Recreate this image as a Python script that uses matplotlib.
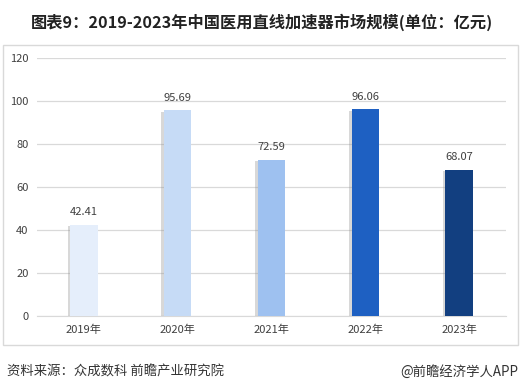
import matplotlib
matplotlib.use("Agg")
import matplotlib.pyplot as plt
import matplotlib.patheffects as pe
from matplotlib.patches import Rectangle

plt.rcParams['font.family'] = ['Noto Sans CJK SC', 'DejaVu Sans']

categories = ["2019年", "2020年", "2021年", "2022年", "2023年"]
values = [42.41, 95.69, 72.59, 96.06, 68.07]
colors = ["#E5EEFB", "#C6DBF6", "#9EC1F0", "#1E60C2", "#123F80"]
yticks = [0, 20, 40, 60, 80, 100, 120]

W, H = 523, 390
fig = plt.figure(figsize=(W / 100, H / 100), dpi=100)

# outer frame
fig.patches.append(Rectangle((3 / W, 1 - 345 / H), 515 / W, 300 / H,
                             transform=fig.transFigure, fill=False,
                             edgecolor="#D9D9D9", linewidth=1.0))

ax = fig.add_axes([37 / W, 1 - 316 / H, 469 / W, 258 / H])
x = range(len(categories))
bars = ax.bar(x, values, width=0.29, color=colors, zorder=3)
for b in bars:
    b.set_path_effects([pe.SimplePatchShadow(offset=(-2, -1), shadow_rgbFace="#909090", alpha=0.35),
                        pe.Normal()])
for xi, v in zip(x, values):
    ax.text(xi, v + 3.5, f"{v:.2f}", ha="center", va="bottom", fontsize=8, color="#404040")

ax.set_xlim(-0.5, len(categories) - 0.5)
ax.set_ylim(0, 120)
ax.set_yticks(yticks)
ax.set_yticklabels([str(t) for t in yticks], fontsize=8, color="#404040")
ax.set_xticks(list(x))
ax.set_xticklabels(categories, fontsize=8, color="#404040")
ax.tick_params(length=0, pad=6)
ax.grid(axis="y", color="#D9D9D9", linewidth=0.9, zorder=0)
for s in ax.spines.values():
    s.set_visible(False)
ax.spines["bottom"].set_visible(True)
ax.spines["bottom"].set_color("#D9D9D9")

fig.text(262 / W, 1 - 22 / H, "图表9：2019-2023年中国医用直线加速器市场规模(单位：亿元)",
         ha="center", va="center", fontsize=11.7, fontweight="bold", color="#222222")
fig.text(7 / W, 1 - 372 / H, "资料来源：众成数科 前瞻产业研究院",
         ha="left", va="center", fontsize=9.6, color="#333333")
fig.text(518 / W, 1 - 372 / H, "@前瞻经济学人APP",
         ha="right", va="center", fontsize=9.6, color="#333333")

fig.savefig("out.png", dpi=100)
